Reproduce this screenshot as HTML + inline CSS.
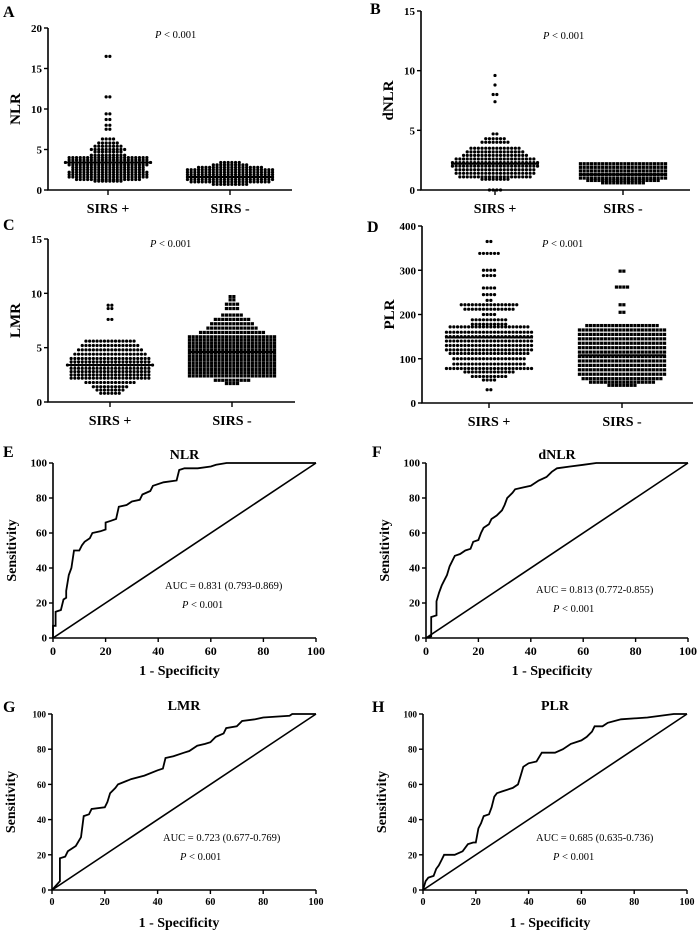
<!DOCTYPE html>
<html><head><meta charset="utf-8"><style>
html,body{margin:0;padding:0;background:#fff}
svg{display:block;font-family:"Liberation Serif",serif}
</style></head><body>
<svg id="fig" width="700" height="938" viewBox="0 0 700 938"></svg>
<script>
// ---------- dot-plot data: [value, count] rows ----------
const categories = ["SIRS +", "SIRS -"];
const nlrPos = [[16.5,2],[11.5,2],[9.4,2],[8.7,2],[8.0,2],[7.5,2],[6.3,4],[5.8,6],[5.4,8],[5.0,10],[4.7,8],[4.3,10],[4.0,22],[3.7,22],[3.4,24],[3.1,22],[2.8,20],[2.5,20],[2.2,22],[1.9,22],[1.6,22],[1.3,18],[1.1,8]];
const nlrNeg = [[3.4,6],[3.1,10],[2.8,18],[2.5,24],[2.2,24],[1.9,24],[1.6,24],[1.3,24],[1.0,22],[0.7,10]];
const nlrMedians = [3.4, 1.6];
const dnlrPos = [[9.6,1],[8.8,1],[8.0,2],[7.4,1],[4.7,2],[4.3,6],[4.0,8],[3.5,14],[3.2,16],[2.9,18],[2.6,22],[2.3,24],[2.0,24],[1.7,22],[1.4,22],[1.1,20],[0.9,8],[0,4]];
const dnlrNeg = [[2.2,24],[1.9,24],[1.6,24],[1.3,24],[1.0,24],[0.8,20],[0.6,12]];
const dnlrMedians = [2.2, 1.3];
const lmrPos = [[8.9,2],[8.6,2],[7.6,2],[5.6,14],[5.2,16],[4.8,18],[4.4,20],[4.0,22],[3.7,22],[3.4,24],[3.1,22],[2.8,22],[2.5,22],[2.2,22],[1.8,14],[1.4,10],[1.1,8],[0.8,6]];
const lmrNeg = [[9.7,2],[9.4,2],[9.0,4],[8.6,4],[8.0,6],[7.6,10],[7.2,12],[6.8,14],[6.4,18],[6.0,24],[5.7,24],[5.4,24],[5.1,24],[4.8,24],[4.5,24],[4.2,24],[3.9,24],[3.6,24],[3.3,24],[3.0,24],[2.7,24],[2.4,24],[2.0,10],[1.7,4]];
const lmrMedians = [3.4, 4.6];
const plrPos = [[365,2],[338,6],[300,4],[288,4],[260,4],[245,4],[232,2],[222,16],[212,14],[200,4],[188,10],[178,10],[172,22],[160,24],[150,24],[140,24],[130,24],[120,24],[112,22],[100,20],[88,20],[78,24],[70,14],[60,10],[52,4],[30,2]];
const plrNeg = [[298,2],[262,4],[222,2],[205,2],[175,20],[165,24],[155,24],[145,24],[135,24],[125,24],[115,24],[105,24],[95,24],[85,24],[75,24],[65,24],[55,22],[47,18],[40,8]];
const plrMedians = [148, 108];

// ---------- ROC data (1-specificity, sensitivity) ----------
const rocNlrX = [0,0,1,1,3,4,5,5,6,7,8,10,11,12,14,15,18,20,20,22,24,25,28,30,33,34,37,38,42,47,48,50,55,60,62,66,100];
const rocNlrY = [0,7,7,15,16,22,23,27,36,40,50,50,53,55,57,60,61,62,66,67,68,75,76,78,79,82,84,87,89,90,96,97,97,98,99,100,100];
const rocDnlrX = [0,2,2,4,4,5,6,7,8,9,11,13,15,17,18,20,21,22,24,25,27,29,30,31,33,34,37,40,43,46,48,50,55,60,65,100];
const rocDnlrY = [0,1,12,13,21,26,30,33,36,41,47,48,50,51,55,56,60,63,65,68,70,73,76,80,83,85,86,87,90,92,95,97,98,99,100,100];
const rocLmrX = [0,3,3,5,6,9,11,12,14,15,20,21,22,24,25,30,35,40,42,43,46,50,52,55,58,60,62,65,66,70,72,77,80,90,91,100];
const rocLmrY = [0,5,18,19,22,25,30,42,43,46,47,50,55,58,60,63,65,68,69,75,76,78,79,82,83,84,87,89,92,93,96,97,98,99,100,100];
const rocPlrX = [0,1,2,4,5,6,7,8,12,15,17,19,20,21,22,23,25,26,27,28,30,34,36,37,38,40,43,45,50,53,56,60,62,64,65,68,70,75,85,95,100];
const rocPlrY = [0,5,7,8,12,14,17,20,20,22,26,27,27,35,38,42,43,47,53,55,56,58,60,65,70,72,73,78,78,80,83,85,87,90,93,93,95,97,98,100,100];
const rocTicks = [0,20,40,60,80,100];

const NS = "http://www.w3.org/2000/svg";
const svg = document.getElementById("fig");
function mk(tag, attrs, parent, text){
  const e = document.createElementNS(NS, tag);
  for (const k in attrs) e.setAttribute(k, attrs[k]);
  if (text !== undefined) e.textContent = text;
  (parent || svg).appendChild(e);
  return e;
}

function dotPanel(p){
  const g = mk("g", {});
  
  
  const ys = v => p.y0 - (v / p.max) * (p.y0 - p.yTop);
  const t = mk("text", {x:p.lx, y:p.ly, "font-size":16, "font-weight":"bold"}, g, p.letter);
  
  
  const ax = mk("path", {d:`M${p.x0},${p.yTop} V${p.y0} H${p.xEnd}`, stroke:"#000", "stroke-width":1.6, fill:"none"}, g);
  
  
  for (let v = 0; v <= p.max + 1e-9; v += p.step){
    const y = ys(v);
    mk("line", {x1:p.x0-4, x2:p.x0, y1:y, y2:y, stroke:"#000", "stroke-width":1.4}, g);
    const tl = mk("text", {x:p.x0-6, y:y+4, "font-size":11, "font-weight":"bold", "text-anchor":"end"}, g, String(v));
    
    
  }
  const yl = mk("text", {x:0, y:0, "font-size":15, "font-weight":"bold", "text-anchor":"middle", transform:`translate(${p.x0-28},${(p.yTop+p.y0)/2}) rotate(-90)`}, g, p.ylabel);
  
  
  const pt = mk("text", {x:p.px, y:p.py, "font-size":10.5}, g);
  mk("tspan", {"font-style":"italic"}, pt, "P");
  mk("tspan", {}, pt, " < 0.001");
  
  
  const groups = [p.pos, p.neg];
  groups.forEach((rows, gi) => {
    const cx = p.centers[gi];
    mk("line", {x1:cx, x2:cx, y1:p.y0, y2:p.y0+5, stroke:"#000", "stroke-width":1.4}, g);
    const cl = mk("text", {x:cx, y:p.y0+23, "font-size":14, "font-weight":"bold", "text-anchor":"middle"}, g, categories[gi]);
    
    
    const sp = 3.7;
    rows.forEach(([v, n]) => {
      const y = ys(v);
      for (let i = 0; i < n; i++){
        const x = cx + (i - (n-1)/2) * sp;
        let d;
        if (gi === 0 || !p.squares) d = mk("circle", {cx:x, cy:y, r:1.6, fill:"#000"}, g);
        else d = mk("rect", {x:x-1.6, y:y-1.6, width:3.2, height:3.2, fill:"#000"}, g);
        
        
      }
    });
    const my = ys(p.medians[gi]);
    const ml = mk("line", {x1:cx-44, x2:cx+44, y1:my, y2:my, stroke:"#000", "stroke-width":2}, g);
    
    
  });
}

dotPanel({letter:"A", lx:3, ly:17, x0:48, xEnd:292, yTop:28, y0:190, max:20, step:5, centers:[108,230], ylabel:"NLR", px:155, py:38, pos:nlrPos, neg:nlrNeg, medians:nlrMedians, squares:false});
dotPanel({letter:"B", lx:370, ly:14, x0:421, xEnd:690, yTop:11, y0:190, max:15, step:5, centers:[495,623], ylabel:"dNLR", px:543, py:39, pos:dnlrPos, neg:dnlrNeg, medians:dnlrMedians, squares:true});
dotPanel({letter:"C", lx:3, ly:230, x0:48, xEnd:295, yTop:239, y0:402, max:15, step:5, centers:[110,232], ylabel:"LMR", px:150, py:247, pos:lmrPos, neg:lmrNeg, medians:lmrMedians, squares:true});
dotPanel({letter:"D", lx:367, ly:232, x0:422, xEnd:693, yTop:226, y0:403, max:400, step:100, centers:[489,622], ylabel:"PLR", px:542, py:247, pos:plrPos, neg:plrNeg, medians:plrMedians, squares:true});

function rocPanel(p){
  const g = mk("g", {});
  
  
  const xs = v => p.x0 + v/100*(p.x1-p.x0);
  const ys = v => p.y0 - v/100*(p.y0-p.yTop);
  const t = mk("text", {x:p.lx, y:p.ly, "font-size":16, "font-weight":"bold"}, g, p.letter);
  
  
  const ti = mk("text", {x:(p.x0+p.x1)/2, y:p.yTop-4, "font-size":14, "font-weight":"bold", "text-anchor":"middle"}, g, p.title);
  
  
  const ax = mk("path", {d:`M${p.x0},${p.yTop} V${p.y0} H${p.x1}`, stroke:"#000", "stroke-width":1.6, fill:"none"}, g);
  
  
  rocTicks.forEach(v => {
    mk("line", {x1:p.x0-4, x2:p.x0, y1:ys(v), y2:ys(v), stroke:"#000", "stroke-width":1.4}, g);
    const yl = mk("text", {x:p.x0-6, y:ys(v)+3.5, "font-size":p.tf-1, "font-weight":"bold", "text-anchor":"end"}, g, String(v));
    
    
    mk("line", {x1:xs(v), x2:xs(v), y1:p.y0, y2:p.y0+4, stroke:"#000", "stroke-width":1.4}, g);
    const xl = mk("text", {x:xs(v), y:p.y0+p.tf+5, "font-size":p.tf, "font-weight":"bold", "text-anchor":"middle"}, g, String(v));
    
    
  });
  const xt = mk("text", {x:(p.x0+p.x1)/2 - 5, y:p.y0+37, "font-size":14, "font-weight":"bold", "text-anchor":"middle"}, g, "1 - Specificity");
  
  
  const yt = mk("text", {x:0, y:0, "font-size":14, "font-weight":"bold", "text-anchor":"middle", transform:`translate(${p.x0-37},${(p.yTop+p.y0)/2}) rotate(-90)`}, g, "Sensitivity");
  
  
  const diag = mk("line", {x1:xs(0), y1:ys(0), x2:xs(100), y2:ys(100), stroke:"#000", "stroke-width":1.6}, g);
  
  
  let d = "";
  p.xsData.forEach((v,i) => { d += (i ? " L" : "M") + xs(v).toFixed(1) + "," + ys(p.ysData[i]).toFixed(1); });
  const c = mk("path", {d:d, stroke:"#000", "stroke-width":1.8, fill:"none"}, g);
  
  
  const au = mk("text", {x:p.ax, y:p.ay, "font-size":10.5}, g, p.auc);
  
  
  const pt = mk("text", {x:p.ax+17, y:p.ay+19, "font-size":10.5}, g);
  mk("tspan", {"font-style":"italic"}, pt, "P");
  mk("tspan", {}, pt, " < 0.001");
  
  
}

rocPanel({letter:"E", lx:3, ly:457, title:"NLR", x0:53, x1:316, yTop:463, y0:638, tf:12, xsData:rocNlrX, ysData:rocNlrY, auc:"AUC = 0.831 (0.793-0.869)", ax:165, ay:589});
rocPanel({letter:"F", lx:372, ly:457, title:"dNLR", x0:426, x1:688, yTop:463, y0:638, tf:12, xsData:rocDnlrX, ysData:rocDnlrY, auc:"AUC = 0.813 (0.772-0.855)", ax:536, ay:593});
rocPanel({letter:"G", lx:3, ly:712, title:"LMR", x0:52, x1:316, yTop:714, y0:890, tf:10, xsData:rocLmrX, ysData:rocLmrY, auc:"AUC = 0.723 (0.677-0.769)", ax:163, ay:841});
rocPanel({letter:"H", lx:372, ly:712, title:"PLR", x0:423, x1:687, yTop:714, y0:890, tf:10, xsData:rocPlrX, ysData:rocPlrY, auc:"AUC = 0.685 (0.635-0.736)", ax:536, ay:841});
</script>
</body></html>
